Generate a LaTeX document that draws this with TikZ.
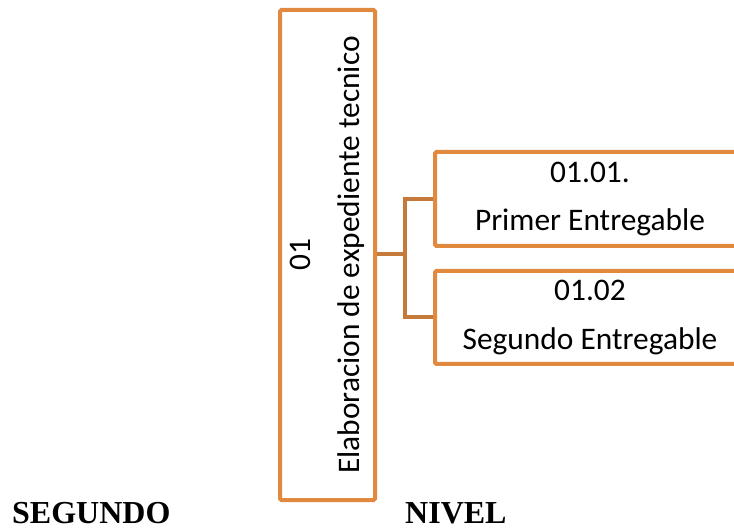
\documentclass[tikz,border=0pt]{standalone}
\usepackage{fontspec}
\setmainfont{Carlito}
\newfontfamily\timesbold{Liberation Serif}[BoldFont={Liberation Serif Bold}]
\definecolor{boxorange}{RGB}{224,137,63}
\definecolor{lineorange}{RGB}{197,122,60}
\tikzset{
  wbsbox/.style={draw=boxorange, line width=4pt, rounded corners=1.5pt, fill=white,
    align=center, inner sep=0pt,
    font=\fontsize{31.4}{48.5}\selectfont},
  wbsline/.style={draw=lineorange, line width=4pt},
  levellabel/.style={font=\timesbold\bfseries\fontsize{32}{38}\selectfont, inner sep=0pt, anchor=base west}
}
\begin{document}
\begin{tikzpicture}[x=1pt,y=-1pt]
\useasboundingbox (0,0) rectangle (734,529);
\clip (0,0) rectangle (734,529);
\node[wbsbox, rotate=90, minimum width=490pt, minimum height=95pt] (main) at (327.5,255) {01\\Elaboracion de expediente tecnico};
\node[wbsbox, minimum width=310pt, minimum height=94pt] (b1) at (590,199) {01.01.\\Primer Entregable};
\node[wbsbox, minimum width=310pt, minimum height=93pt] (b2) at (590,317.5) {01.02\\Segundo Entregable};
\coordinate (j) at (405,254);
\draw[wbsline] (main.south |- j) -- (j);
\draw[wbsline] (b1.west) -| (j) |- (b2.west);
\node[levellabel] (seg) at (12,523) {SEGUNDO};
\node[levellabel] (niv) at (405,523) {NIVEL};
\end{tikzpicture}
\end{document}
